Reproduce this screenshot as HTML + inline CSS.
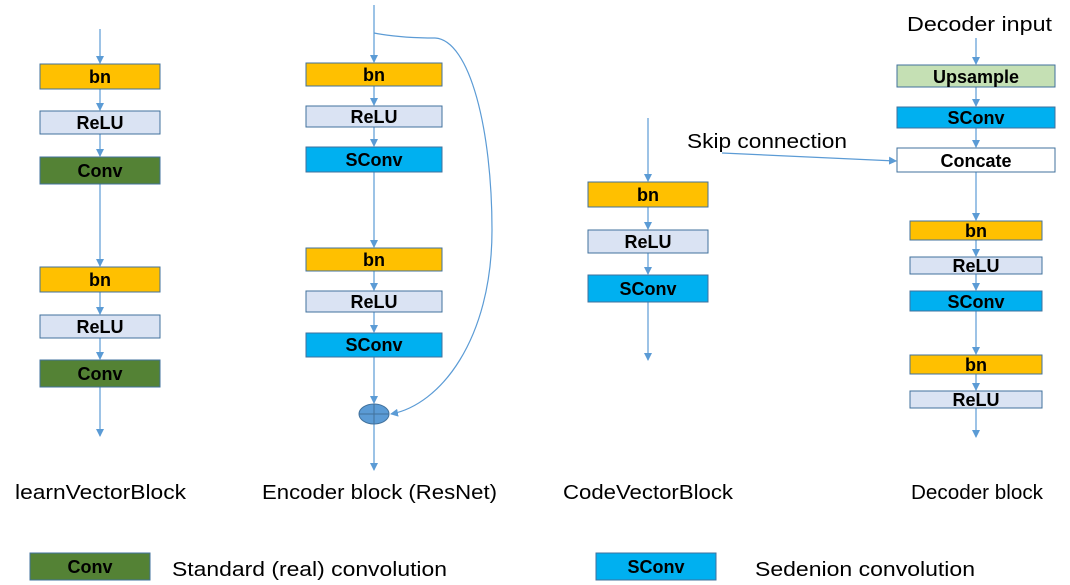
<!DOCTYPE html>
<html><head><meta charset="utf-8"><style>
html,body{margin:0;padding:0;background:#fff;}
svg{display:block;}
text{font-family:"Liberation Sans",sans-serif;}
.b{font-weight:bold;font-size:18px;text-anchor:middle;fill:#000;}
.l{font-size:20px;fill:#000;}
</style></head><body>
<svg width="1070" height="585" viewBox="0 0 1070 585" xmlns="http://www.w3.org/2000/svg">
<defs>
<marker id="a" markerWidth="8" markerHeight="8" refX="7" refY="4" orient="auto" markerUnits="userSpaceOnUse"><path d="M0,0 L8,4 L0,8 z" fill="#5b9bd5"/></marker>
</defs>
<g stroke="#5b9bd5" stroke-width="1.2" fill="none">
<!-- left column -->
<line x1="100" y1="29" x2="100" y2="63" marker-end="url(#a)"/>
<line x1="100" y1="89" x2="100" y2="110" marker-end="url(#a)"/>
<line x1="100" y1="134" x2="100" y2="156" marker-end="url(#a)"/>
<line x1="100" y1="184" x2="100" y2="266" marker-end="url(#a)"/>
<line x1="100" y1="292" x2="100" y2="314" marker-end="url(#a)"/>
<line x1="100" y1="338" x2="100" y2="359" marker-end="url(#a)"/>
<line x1="100" y1="387" x2="100" y2="436" marker-end="url(#a)"/>
<!-- encoder -->
<line x1="374" y1="5" x2="374" y2="62" marker-end="url(#a)"/>
<line x1="374" y1="86" x2="374" y2="105" marker-end="url(#a)"/>
<line x1="374" y1="127" x2="374" y2="146" marker-end="url(#a)"/>
<line x1="374" y1="172" x2="374" y2="247" marker-end="url(#a)"/>
<line x1="374" y1="271" x2="374" y2="290" marker-end="url(#a)"/>
<line x1="374" y1="312" x2="374" y2="332" marker-end="url(#a)"/>
<line x1="374" y1="357" x2="374" y2="403" marker-end="url(#a)"/>
<line x1="374" y1="424" x2="374" y2="470" marker-end="url(#a)"/>
<path d="M374,33 C395,37 420,38 435,38 C470,40 492,130 492,230 C492,340 440,405 391,414" marker-end="url(#a)"/>
<!-- code vector -->
<line x1="648" y1="118" x2="648" y2="181" marker-end="url(#a)"/>
<line x1="648" y1="207" x2="648" y2="229" marker-end="url(#a)"/>
<line x1="648" y1="253" x2="648" y2="274" marker-end="url(#a)"/>
<line x1="648" y1="302" x2="648" y2="360" marker-end="url(#a)"/>
<!-- decoder -->
<line x1="976" y1="38" x2="976" y2="64" marker-end="url(#a)"/>
<line x1="976" y1="87" x2="976" y2="106" marker-end="url(#a)"/>
<line x1="976" y1="128" x2="976" y2="147" marker-end="url(#a)"/>
<line x1="976" y1="172" x2="976" y2="220" marker-end="url(#a)"/>
<line x1="976" y1="240" x2="976" y2="256" marker-end="url(#a)"/>
<line x1="976" y1="274" x2="976" y2="290" marker-end="url(#a)"/>
<line x1="976" y1="311" x2="976" y2="354" marker-end="url(#a)"/>
<line x1="976" y1="374" x2="976" y2="390" marker-end="url(#a)"/>
<line x1="976" y1="408" x2="976" y2="437" marker-end="url(#a)"/>
<line x1="722" y1="153" x2="896" y2="161" marker-end="url(#a)"/>
</g>
<g stroke="#41719c" stroke-width="1">
<rect x="40" y="64" width="120" height="25" fill="#ffc000"/>
<rect x="40" y="111" width="120" height="23" fill="#dae3f3"/>
<rect x="40" y="157" width="120" height="27" fill="#548235"/>
<rect x="40" y="267" width="120" height="25" fill="#ffc000"/>
<rect x="40" y="315" width="120" height="23" fill="#dae3f3"/>
<rect x="40" y="360" width="120" height="27" fill="#548235"/>

<rect x="306" y="63" width="136" height="23" fill="#ffc000"/>
<rect x="306" y="106" width="136" height="21" fill="#dae3f3"/>
<rect x="306" y="147" width="136" height="25" fill="#00b0f0"/>
<rect x="306" y="248" width="136" height="23" fill="#ffc000"/>
<rect x="306" y="291" width="136" height="21" fill="#dae3f3"/>
<rect x="306" y="333" width="136" height="24" fill="#00b0f0"/>
<ellipse cx="374" cy="414" rx="15" ry="10" fill="#5b9bd5"/>
<line x1="359" y1="414" x2="389" y2="414"/><line x1="374" y1="404" x2="374" y2="424"/>

<rect x="588" y="182" width="120" height="25" fill="#ffc000"/>
<rect x="588" y="230" width="120" height="23" fill="#dae3f3"/>
<rect x="588" y="275" width="120" height="27" fill="#00b0f0"/>

<rect x="897" y="65" width="158" height="22" fill="#c5e0b4"/>
<rect x="897" y="107" width="158" height="21" fill="#00b0f0"/>
<rect x="897" y="148" width="158" height="24" fill="#ffffff"/>
<rect x="910" y="221" width="132" height="19" fill="#ffc000"/>
<rect x="910" y="257" width="132" height="17" fill="#dae3f3"/>
<rect x="910" y="291" width="132" height="20" fill="#00b0f0"/>
<rect x="910" y="355" width="132" height="19" fill="#ffc000"/>
<rect x="910" y="391" width="132" height="17" fill="#dae3f3"/>

<rect x="30" y="553" width="120" height="27" fill="#548235"/>
<rect x="596" y="553" width="120" height="27" fill="#00b0f0"/>
</g>
<g class="b">
<text x="100" y="83">bn</text><text x="100" y="129">ReLU</text><text x="100" y="177">Conv</text>
<text x="100" y="286">bn</text><text x="100" y="333">ReLU</text><text x="100" y="380">Conv</text>
<text x="374" y="81">bn</text><text x="374" y="123">ReLU</text><text x="374" y="166">SConv</text>
<text x="374" y="266">bn</text><text x="374" y="308">ReLU</text><text x="374" y="351">SConv</text>
<text x="648" y="201">bn</text><text x="648" y="248">ReLU</text><text x="648" y="295">SConv</text>
<text x="976" y="83">Upsample</text><text x="976" y="124">SConv</text><text x="976" y="167">Concate</text>
<text x="976" y="237">bn</text><text x="976" y="272">ReLU</text><text x="976" y="308">SConv</text>
<text x="976" y="371">bn</text><text x="976" y="406">ReLU</text>
<text x="90" y="573">Conv</text><text x="656" y="573">SConv</text>
</g>
<g class="l">
<text x="907" y="31" textLength="145" lengthAdjust="spacingAndGlyphs">Decoder input</text>
<text x="687" y="148" textLength="160" lengthAdjust="spacingAndGlyphs">Skip connection</text>
<text x="15" y="499" textLength="171" lengthAdjust="spacingAndGlyphs">learnVectorBlock</text>
<text x="262" y="499" textLength="235" lengthAdjust="spacingAndGlyphs">Encoder block (ResNet)</text>
<text x="563" y="499" textLength="170" lengthAdjust="spacingAndGlyphs">CodeVectorBlock</text>
<text x="911" y="499" textLength="132" lengthAdjust="spacingAndGlyphs">Decoder block</text>
<text x="172" y="576" textLength="275" lengthAdjust="spacingAndGlyphs">Standard (real) convolution</text>
<text x="755" y="576" textLength="220" lengthAdjust="spacingAndGlyphs">Sedenion convolution</text>
</g>
</svg>
</body></html>
